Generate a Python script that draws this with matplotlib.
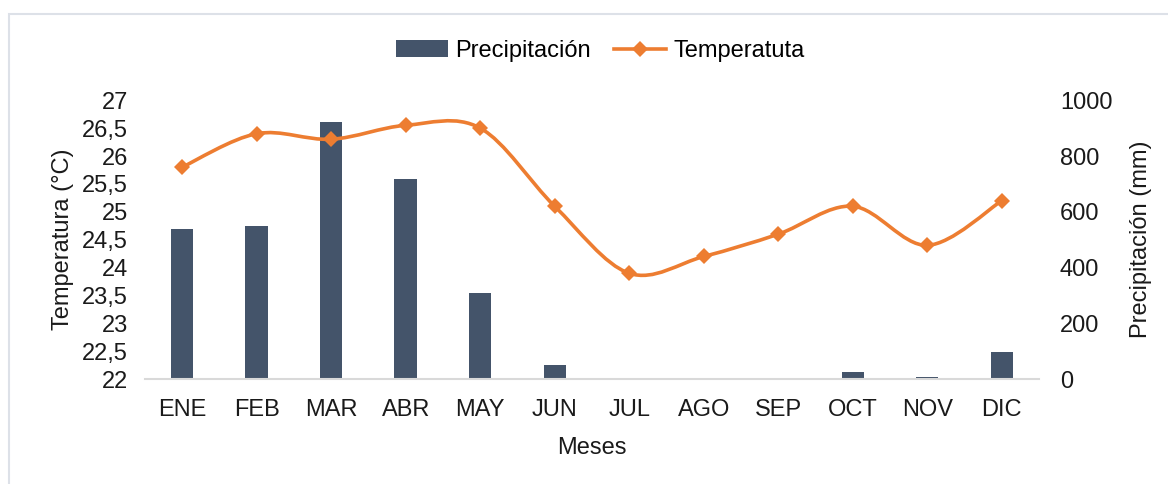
import matplotlib
matplotlib.use("Agg")
import matplotlib.pyplot as plt
from matplotlib.path import Path
from matplotlib.patches import PathPatch, Patch, Rectangle
from matplotlib.lines import Line2D
from matplotlib.ticker import FuncFormatter

meses = ["ENE", "FEB", "MAR", "ABR", "MAY", "JUN", "JUL", "AGO", "SEP", "OCT", "NOV", "DIC"]
precipitacion = [538, 548, 923, 717, 309, 51, 0, 0, 0, 27, 7, 97]
temperatura = [25.8, 26.4, 26.3, 26.55, 26.5, 25.1, 23.9, 24.2, 24.6, 25.1, 24.4, 25.2]

BAR_COLOR = "#44546A"
LINE_COLOR = "#ED7D31"
TEXT_COLOR = "#1a1a1a"

plt.rcParams["font.family"] = ["Liberation Sans", "DejaVu Sans"]
plt.rcParams["font.size"] = 17


def comma(y, pos):
    s = ("%g" % y)
    return s.replace(".", ",")


def smooth_path(xs, ys):
    # bezier curve through the points, like the "smoothed line" option in Excel
    pts = list(zip(xs, ys))
    n = len(pts)
    verts = [pts[0]]
    codes = [Path.MOVETO]
    for i in range(n - 1):
        p0 = pts[i - 1] if i > 0 else pts[i]
        p1 = pts[i]
        p2 = pts[i + 1]
        p3 = pts[i + 2] if i + 2 < n else pts[i + 1]
        c1 = (p1[0] + (p2[0] - p0[0]) / 6, p1[1] + (p2[1] - p0[1]) / 6)
        c2 = (p2[0] - (p3[0] - p1[0]) / 6, p2[1] - (p3[1] - p1[1]) / 6)
        verts += [c1, c2, p2]
        codes += [Path.CURVE4] * 3
    return Path(verts, codes)


fig = plt.figure(figsize=(11.68, 4.84), dpi=100)
ax1 = fig.add_axes([0.124, 0.2163, 0.7656, 0.5767])
ax2 = ax1.twinx()
x = list(range(len(meses)))

# bars -> precipitation on the right axis
ax1.bar(x, precipitacion, width=0.3, color=BAR_COLOR, zorder=2)
ax1.set_ylim(0, 1000)
ax1.set_xlim(-0.5, len(meses) - 0.5)
ax1.yaxis.tick_right()
ax1.yaxis.set_label_position("right")
ax1.set_yticks(range(0, 1001, 200))
ax1.set_ylabel("Precipitación (mm)", color=TEXT_COLOR, labelpad=13)
ax1.set_xticks(x)
ax1.set_xticklabels(meses)
ax1.set_xlabel("Meses", color=TEXT_COLOR, labelpad=12)

# line -> temperature on the left axis
ax2.yaxis.tick_left()
ax2.yaxis.set_label_position("left")
ax2.set_ylim(22, 27)
ax2.set_yticks([22 + 0.5 * i for i in range(11)])
ax2.yaxis.set_major_formatter(FuncFormatter(comma))
ax2.set_ylabel("Temperatura (°C)", color=TEXT_COLOR, labelpad=6)
ax2.add_patch(PathPatch(smooth_path(x, temperatura), fill=False,
                        edgecolor=LINE_COLOR, lw=2.6, capstyle="round"))
ax2.plot(x, temperatura, linestyle="none", marker="D", markersize=8,
         color=LINE_COLOR, markeredgewidth=0)

for a in (ax1, ax2):
    for s in a.spines.values():
        s.set_visible(False)
    a.tick_params(length=0, colors=TEXT_COLOR, labelsize=17)
ax1.spines["bottom"].set_visible(True)
ax1.spines["bottom"].set_color("#D9D9D9")
ax1.spines["bottom"].set_linewidth(1.5)
ax1.tick_params(axis="x", pad=14)
ax1.tick_params(axis="y", pad=15)
ax2.tick_params(axis="y", pad=12)

handles = [Patch(facecolor=BAR_COLOR, label="Precipitación"),
           Line2D([], [], color=LINE_COLOR, lw=2.6, marker="D", markersize=8,
                  markeredgewidth=0, label="Temperatuta")]
fig.legend(handles=handles, loc="center", bbox_to_anchor=(0.514, 0.895), ncol=2,
           frameon=False, handlelength=2.2, handletextpad=0.3, columnspacing=1.0,
           fontsize=17)

# light chart border, open at right and bottom
fig.patches.append(Rectangle((9 / 1168, -0.1), 1.2, (484 - 14) / 484 + 0.1,
                             transform=fig.transFigure, fill=False,
                             edgecolor="#DDE1E8", lw=1.5))

fig.savefig("out.png", dpi=100)
plt.close()
